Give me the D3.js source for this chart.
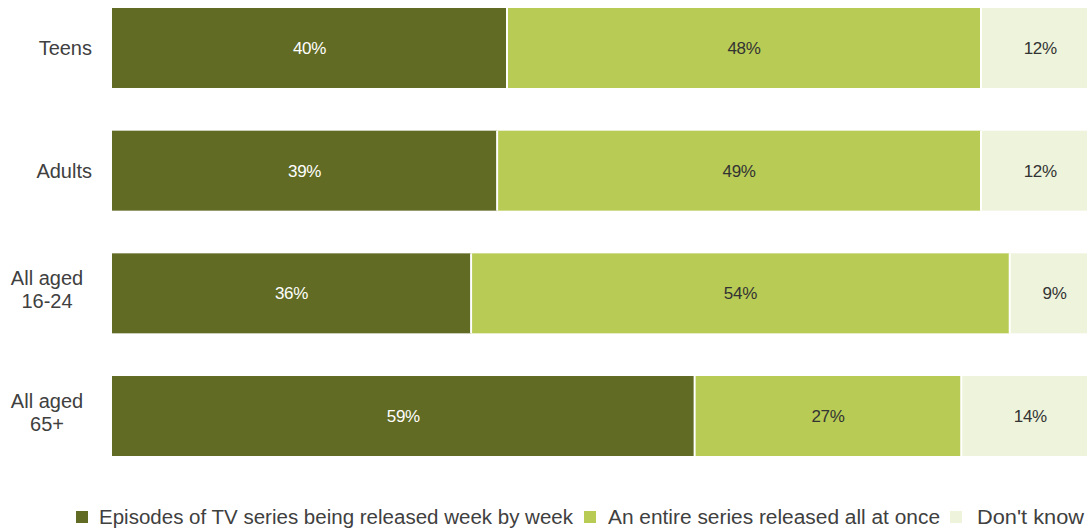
<!DOCTYPE html>
<html><head><meta charset="utf-8">
<script src="https://cdn.jsdelivr.net/npm/d3@7"></script>
<style>body{margin:0;background:#fff;}svg{display:block;font-family:"Liberation Sans",Arial,sans-serif;}</style>
</head><body>
<svg id="chart" width="1087" height="531"></svg>
<script>
const categories = [["Teens"], ["Adults"], ["All aged", "16-24"], ["All aged", "65+"]];
const categoryKeys = ["Teens", "Adults", "All aged 16-24", "All aged 65+"];
const seriesNames = ["Episodes of TV series being released week by week", "An entire series released all at once", "Don't know"];
const weekByWeek = [40, 39, 36, 59];
const allAtOnce = [48, 49, 54, 27];
const dontKnow = [12, 12, 9, 14];
const colors = ["#616b23", "#b8cb55", "#eef3dc"];
const labelColors = ["#ffffff", "#333333", "#333333"];

const svg = d3.select("#chart");
const x = d3.scaleLinear().domain([0, 1]).range([112, 1099.5]);
const y = d3.scaleBand().domain(categoryKeys).range([8, 456]).paddingInner(0.348).paddingOuter(0);

const rows = categoryKeys.map((k, i) => ({key: k, lines: categories[i], vals: [weekByWeek[i], allAtOnce[i], dontKnow[i]]}));
const stackData = rows.map(r => ({key: r.key, s0: r.vals[0], s1: r.vals[1], s2: r.vals[2]}));
const keys = ["s0", "s1", "s2"];
const stack = d3.stack().keys(keys).offset(d3.stackOffsetExpand)(stackData);

stack.forEach((layer, li) => {
  const g = svg.append("g");
  g.selectAll("rect").data(layer).join("rect")
    .attr("x", d => x(d[0]))
    .attr("y", d => y(d.data.key))
    .attr("width", d => x(d[1]) - x(d[0]))
    .attr("height", y.bandwidth())
    .attr("fill", colors[li]);
  g.selectAll("text").data(layer).join("text")
    .attr("x", d => (x(d[0]) + x(d[1])) / 2)
    .attr("y", d => y(d.data.key) + y.bandwidth() / 2 + 6)
    .attr("text-anchor", "middle")
    .attr("font-size", 17)
    .attr("letter-spacing", -0.3)
    .attr("fill", labelColors[li])
    .text(d => d.data[keys[li]] + "%");
});
// separators
stack.slice(1).forEach(layer => {
  svg.append("g").selectAll("line").data(layer).join("line")
    .attr("x1", d => x(d[0])).attr("x2", d => x(d[0]))
    .attr("y1", d => y(d.data.key)).attr("y2", d => y(d.data.key) + y.bandwidth())
    .attr("stroke", "#fff").attr("stroke-width", 2);
});

// category labels
rows.forEach(r => {
  const cy = y(r.key) + y.bandwidth() / 2;
  const n = r.lines.length;
  const t = svg.append("text").attr("font-size", 20).attr("fill", "#404040");
  if (n === 1) {
    t.attr("text-anchor", "end").append("tspan").attr("x", 92).attr("y", cy + 7).text(r.lines[0]);
  } else {
    t.attr("text-anchor", "middle");
    r.lines.forEach((ln, i) => {
      t.append("tspan").attr("x", 47).attr("y", cy + 3 + (i - (n - 1) / 2) * 23).text(ln);
    });
  }
});

// legend
const legendX = [76, 584, 950];
const legendTextX = [99, 608, 977];
const legendW = [474, 332, 107];
seriesNames.forEach((name, i) => {
  svg.append("rect").attr("x", legendX[i]).attr("y", 511).attr("width", 12).attr("height", 12).attr("fill", colors[i]);
  svg.append("text").attr("x", legendTextX[i]).attr("y", 524).attr("font-size", 20)
    .attr("fill", "#404040").attr("textLength", legendW[i]).attr("lengthAdjust", "spacingAndGlyphs").text(name);
});
</script>
</body></html>
